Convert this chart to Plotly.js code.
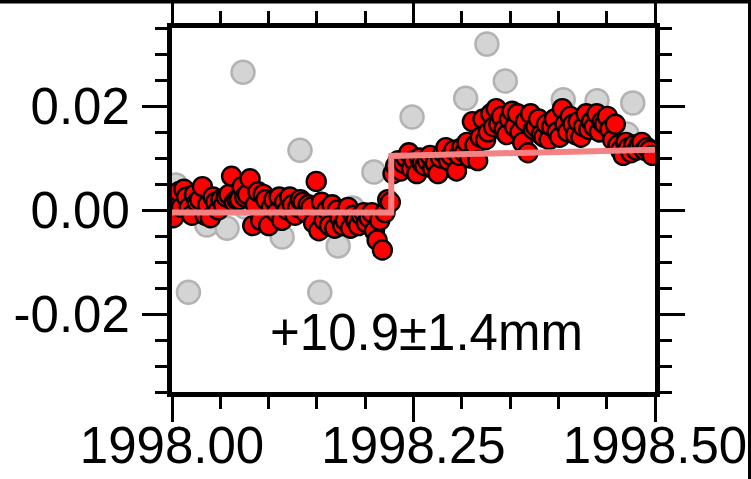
<!DOCTYPE html>
<html>
<head>
<meta charset="utf-8">
<script src="https://cdn.plot.ly/plotly-3.0.1.min.js"></script>
<style>
  html, body { margin: 0; padding: 0; background: #ffffff; }
  #chart { width: 751px; height: 479px; }
</style>
</head>
<body>
<div id="chart"></div>
<script>
// Daily GPS position residuals (metres) for the first half of 1998, with a step fit.

// Day-of-year of each accepted daily solution
const redDays = [
  1, 2, 3, 4, 5, 6, 7, 8, 9, 10,
  11, 12, 13, 14, 15, 16, 17, 18, 19, 20,
  21, 22, 23, 24, 25, 26, 27, 28, 29, 30,
  31, 32, 33, 34, 35, 36, 37, 38, 39, 40,
  41, 42, 43, 44, 45, 46, 47, 48, 49, 50,
  51, 52, 53, 54, 55, 56, 57, 58, 59, 60,
  61, 62, 63, 64, 65, 66, 67, 68, 69, 70,
  71, 72, 73, 74, 75, 76, 77, 78, 79, 80,
  81, 82, 83, 84, 85, 86, 87, 88, 89, 90,
  91, 92, 93, 94, 95, 96, 97, 98, 99, 100,
  101, 102, 103, 104, 105, 106, 107, 108, 109, 110,
  111, 112, 113, 114, 115, 116, 117, 118, 119, 120,
  121, 122, 123, 124, 125, 126, 127, 128, 129, 130,
  131, 132, 133, 134, 135, 136, 137, 138, 139, 140,
  141, 142, 143, 144, 145, 146, 147, 148, 149, 150,
  151, 152, 153, 154, 155, 156, 157, 158, 159, 160,
  161, 162, 163, 164, 165, 166, 167, 168, 169, 170,
  171, 172, 173, 174, 175, 176, 177, 178, 179, 180,
  181, 182
];

// Accepted daily residuals (m)
const redValues = [
  -0.0015, 0.0010, 0.0035, 0.0005, 0.0040, 0.0025, 0.0005, -0.0010, 0.0030, 0.0015,
  0.0020, 0.0045, -0.0010, 0.0010, -0.0015, 0.0025, 0.0015, 0.0000, 0.0020, 0.0010,
  0.0025, 0.0030, 0.0065, 0.0015, 0.0020, 0.0020, 0.0045, 0.0025, 0.0030, 0.0060,
  -0.0030, 0.0010, 0.0035, -0.0020, 0.0030, 0.0020, -0.0030, 0.0005, 0.0020, -0.0005,
  0.0025, -0.0020, 0.0015, 0.0000, 0.0025, 0.0010, -0.0010, 0.0005, 0.0020, 0.0015,
  -0.0005, 0.0010, 0.0005, -0.0025, 0.0055, -0.0040, 0.0015, -0.0020, 0.0000, -0.0030,
  0.0010, -0.0035, 0.0000, -0.0015, -0.0030, -0.0020, 0.0005, -0.0035, -0.0010, -0.0020,
  -0.0030, -0.0010, -0.0005, -0.0025, -0.0015, -0.0005, -0.0040, -0.0058, -0.0020, -0.0077,
  -0.0005, 0.0020, 0.0015, 0.0070, 0.0085, 0.0095, 0.0075, 0.0090, 0.0100, 0.0110,
  0.0080, 0.0095, 0.0070, 0.0100, 0.0090, 0.0085, 0.0095, 0.0105, 0.0080, 0.0090,
  0.0070, 0.0100, 0.0110, 0.0120, 0.0095, 0.0105, 0.0115, 0.0075, 0.0105, 0.0120,
  0.0110, 0.0130, 0.0100, 0.0170, 0.0125, 0.0095, 0.0140, 0.0175, 0.0135, 0.0150,
  0.0185, 0.0160, 0.0195, 0.0165, 0.0180, 0.0155, 0.0145, 0.0175, 0.0190, 0.0160,
  0.0185, 0.0150, 0.0130, 0.0170, 0.0110, 0.0185, 0.0155, 0.0160, 0.0175, 0.0145,
  0.0140, 0.0165, 0.0135, 0.0160, 0.0175, 0.0150, 0.0140, 0.0195, 0.0165, 0.0150,
  0.0180, 0.0165, 0.0145, 0.0170, 0.0140, 0.0160, 0.0185, 0.0155, 0.0170, 0.0160,
  0.0185, 0.0150, 0.0170, 0.0165, 0.0180, 0.0155, 0.0135, 0.0165, 0.0125, 0.0115,
  0.0105, 0.0130, 0.0120, 0.0110, 0.0125, 0.0115, 0.0125, 0.0130, 0.0115, 0.0120,
  0.0115, 0.0105
];

// Rejected (outlier) solutions, decimal year and residual (m)
const grayYears = [
  1998.004, 1998.017, 1998.036, 1998.057, 1998.0735, 1998.0756, 1998.114,
  1998.1325, 1998.153, 1998.172, 1998.187, 1998.209, 1998.2485, 1998.304,
  1998.326, 1998.345, 1998.405, 1998.440, 1998.471, 1998.477
];
const grayValues = [
  0.0048, -0.0158, -0.0029, -0.0035, 0.0265, 0.0006, -0.0052,
  0.0115, -0.0158, -0.0069, 0.0004, 0.0073, 0.0179, 0.0215,
  0.0319, 0.0248, 0.0212, 0.0210, 0.0146, 0.0206
];

// Step model: offset before and after the jump
const fitYears = [1998.0, 1998.227, 1998.227, 1998.5];
const fitValues = [-0.0005, -0.0005, 0.0104, 0.0116];

// Axis ticks
const xTickVals = [1998.0, 1998.25, 1998.5];
const xTickText = ['1998.00', '1998.25', '1998.50'];
const yTickVals = [-0.02, 0.0, 0.02];
const yTickText = ['-0.02', '0.00', '0.02'];

const stepLabel = '+10.9\u00b11.4mm';
const stepLabelPos = { x: 1998.263, y: -0.0235 };

const dayToYear = d => 1998 + (d - 0.5) / 365;

// Plot-area geometry in pixels, used to place the frame decorations
const W = 751, H = 479;
const M = { l: 172, r: 96, t: 28, b: 87 };
const pw = W - M.l - M.r, ph = H - M.t - M.b;
const px = x => (x - M.l) / pw;
const py = y => (H - M.b - y) / ph;

const FONT = 'Liberation Sans, Arial, Helvetica, sans-serif';

const traces = [
  {
    x: grayYears, y: grayValues,
    type: 'scatter', mode: 'markers',
    marker: { size: 23, color: '#d4d4d4', line: { color: '#b3b3b3', width: 2.5 } },
    hoverinfo: 'skip'
  },
  {
    x: redDays.map(dayToYear), y: redValues,
    type: 'scatter', mode: 'markers',
    marker: { size: 19, color: '#ff0000', line: { color: '#000000', width: 2.4 } },
    hoverinfo: 'skip'
  },
  {
    x: fitYears, y: fitValues,
    type: 'scatter', mode: 'lines',
    line: { color: '#f58282', width: 6 },
    hoverinfo: 'skip'
  }
];

const axisCommon = {
  showgrid: false, zeroline: false,
  showline: true, linecolor: '#000', linewidth: 5,
  mirror: 'allticks',
  ticks: 'outside', ticklen: 25, tickwidth: 3, tickcolor: '#000',
  tickfont: { family: FONT, size: 51, color: '#000' },
  tickmode: 'array'
};

const layout = {
  width: W, height: H,
  margin: M,
  paper_bgcolor: '#fff', plot_bgcolor: '#fff',
  showlegend: false,
  xaxis: Object.assign({}, axisCommon, {
    range: [1998.0, 1998.5],
    tickvals: xTickVals, ticktext: xTickText,
    ticklabelstandoff: -20,
    minor: { tickmode: 'linear', tick0: 1998.0, dtick: 0.05, ticks: 'outside', ticklen: 12, tickwidth: 3, tickcolor: '#000', showgrid: false }
  }),
  yaxis: Object.assign({}, axisCommon, {
    range: [-0.035, 0.035],
    tickvals: yTickVals, ticktext: yTickText,
    ticklabelstandoff: 2,
    minor: { tickmode: 'linear', tick0: 0, dtick: 0.005, ticks: 'outside', ticklen: 12, tickwidth: 3, tickcolor: '#000', showgrid: false }
  }),
  annotations: [{
    x: stepLabelPos.x, y: stepLabelPos.y, xref: 'x', yref: 'y',
    text: stepLabel, showarrow: false,
    font: { family: FONT, size: 51, color: '#000' }
  }],
  shapes: [
    // frame edges of the figure: top bar and right bar
    { type: 'rect', xref: 'paper', yref: 'paper', x0: px(-5), x1: px(W + 5), y0: py(3.5), y1: py(-5),
      fillcolor: '#000', line: { width: 0 }, layer: 'above' },
    { type: 'rect', xref: 'paper', yref: 'paper', x0: px(748), x1: px(W + 5), y0: py(H + 5), y1: py(-5),
      fillcolor: '#000', line: { width: 0 }, layer: 'above' }
  ]
};

Plotly.newPlot('chart', traces, layout, { staticPlot: true, displayModeBar: false });
</script>
</body>
</html>
